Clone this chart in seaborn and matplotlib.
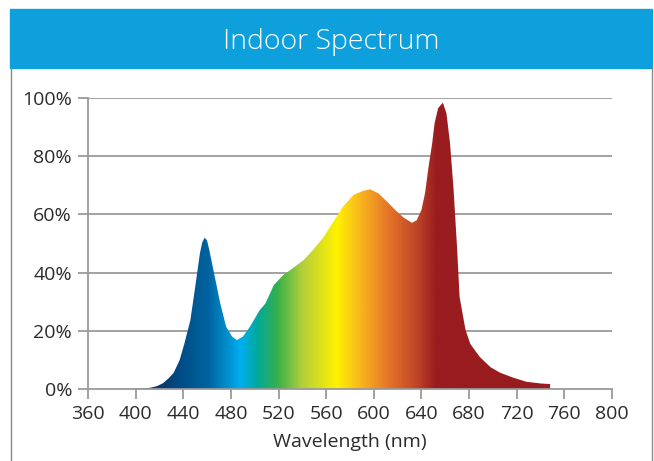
import numpy as np
import matplotlib
matplotlib.use("Agg")
import matplotlib.pyplot as plt
from matplotlib.colors import LinearSegmentedColormap
from matplotlib.patches import Rectangle
from matplotlib.lines import Line2D
import pandas as pd
import seaborn as sns

# spectrum (nm, % relative intensity)
wavelength = [398, 405, 412, 418, 423, 428, 432, 437, 441, 446, 450, 454, 456,
              458, 460, 462, 467, 471, 476, 481, 485, 490, 496, 504, 509, 516,
              524, 532, 541, 549, 558, 566, 574, 583, 591, 597, 604, 611, 618,
              625, 632, 636, 640, 643, 646, 649, 651, 654, 658, 661, 664, 667,
              670, 672, 677, 681, 689, 698, 706, 717, 728, 740, 748]
intensity = [0.1, 0.2, 0.4, 1.0, 2.0, 3.8, 5.6, 10, 15.7, 23.7, 35, 46.7, 50.5,
             52, 51, 47.5, 37.5, 29.5, 21.4, 18, 16.8, 18, 21.4, 27, 29.4, 35.7,
             39.2, 41.5, 44.3, 47.8, 52.3, 57.5, 62.6, 66.7, 68.1, 68.6, 67.2, 64.4, 61.5,
             58.9, 57.1, 58, 61.5, 67.3, 76.5, 84.4, 91.3, 96.5, 98.4, 94.7, 84.4, 68.4,
             47.8, 31.7, 20.3, 15.5, 11, 7.5, 5.6, 3.9, 2.5, 1.9, 1.7]

# colour of the fill along the wavelength axis
stop_nm = [360, 423, 440, 460, 488, 502, 519, 540, 569, 591, 613, 636, 653, 800]
stop_colors = ["#0a3a70", "#0a3a70", "#00508a", "#00639f", "#00aeef", "#00a99d",
               "#37b04a", "#b5cf3a", "#fff200", "#f7b020", "#e5722a", "#bf4626",
               "#991c1f", "#991c1f"]

x_ticks = list(range(360, 801, 40))
y_ticks = [0, 20, 40, 60, 80, 100]

df = pd.DataFrame({"nm": wavelength, "pct": intensity})

sns.set_theme(style="white")
plt.rcParams["font.family"] = ["Open Sans", "DejaVu Sans"]

W, H = 654, 461
fig = plt.figure(figsize=(W / 100, H / 100), dpi=100)
ax = fig.add_axes([88 / W, 1 - 389 / H, (612 - 88) / W, (389 - 98) / H])

grid_c = "#9a9a9a"
for yv in y_ticks[1:]:
    ax.axhline(yv, color=grid_c, lw=1.3, zorder=0)

# gradient clipped by the area under the curve
lo, hi = stop_nm[0], stop_nm[-1]
cmap = LinearSegmentedColormap.from_list(
    "spec", [((s - lo) / (hi - lo), c) for s, c in zip(stop_nm, stop_colors)])
grad = np.linspace(0, 1, 1000).reshape(1, -1)
poly = ax.fill_between(df["nm"], df["pct"], 0, color="none", lw=0)
img = ax.imshow(grad, cmap=cmap, extent=[lo, hi, 0, 100], aspect="auto",
                origin="lower", zorder=2)
clip = poly.get_paths()[0]
img.set_clip_path(clip, transform=ax.transData)
sns.lineplot(data=df, x="nm", y="pct", ax=ax, color="#991c1f", lw=0, zorder=3)

ax.set_xlim(360, 800)
ax.set_ylim(0, 100)
ax.set_xticks(x_ticks)
ax.set_yticks(y_ticks)
ax.set_yticklabels([f"{v}%" for v in y_ticks])
for s in ["top", "right"]:
    ax.spines[s].set_visible(False)
for s in ["left", "bottom"]:
    ax.spines[s].set_color(grid_c)
    ax.spines[s].set_linewidth(1.3)
ax.tick_params(axis="both", direction="out", length=7.5, width=1.3, color=grid_c,
               labelsize=14, labelcolor="#2b2b2b", pad=4, bottom=True, left=True)
ax.set_xlabel("Wavelength (nm)", fontsize=14, color="#2b2b2b", labelpad=7)
ax.set_ylabel("")

# card header and border
fig.patches.append(Rectangle((10 / W, 1 - 68 / H), 642 / W, 59 / H,
                             transform=fig.transFigure, color="#0ea0dc", zorder=0))
fig.text(331 / W, 1 - 42 / H, "Indoor Spectrum", ha="center", va="center",
         color="white", fontsize=20.5, fontweight="light")
for xp in [10.5, 651.5]:
    fig.lines.append(Line2D([xp / W, xp / W], [0, 1 - 68 / H], transform=fig.transFigure,
                            color="#8a8a8a", lw=1))

fig.savefig("out.png", dpi=100)
